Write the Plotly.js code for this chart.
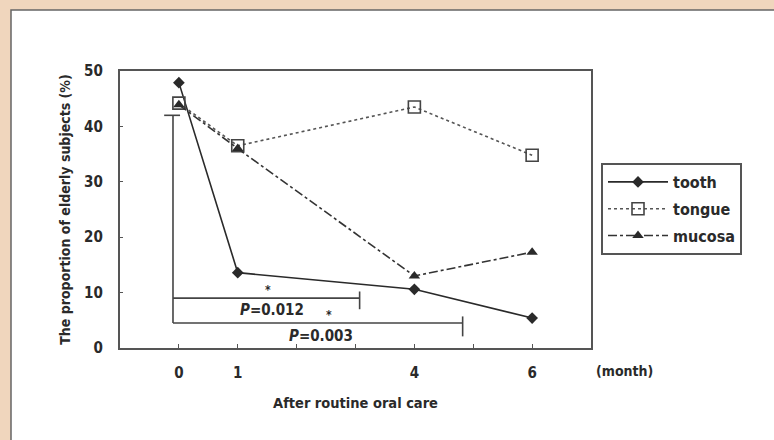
<!DOCTYPE html>
<html>
<head>
<meta charset="utf-8">
<script src="https://cdn.plot.ly/plotly-3.0.1.min.js"></script>
<style>html,body{margin:0;padding:0;background:#f0d6bd;}#chart{width:774px;height:440px;}</style>
</head>
<body>
<div id="chart"></div>
<script>
// ---- data ----
const months = [0, 1, 4, 6];
const tooth  = [47.9, 13.6, 10.6, 5.4];
const tongue = [44.2, 36.5, 43.5, 34.8];
const mucosa = [43.9, 36.0, 13.0, 17.3];
const tickVals = [0, 1, 2, 3, 4, 5, 6];
const tickText = ["0", "1", "", "", "4", "", "6"];
const seriesNames = ["tooth", "tongue", "mucosa"];
// significance brackets: [start month, end month, level %, end-tick low, end-tick high]
const bracketStart = -0.1;
const bracketTop = 42;
const bracket1 = [-0.1, 3.07, 9.0, 7.0, 10.2];
const bracket2 = [-0.1, 4.82, 4.5, 2.1, 5.7];
const pLabels = ["<i>P</i>=0.012", "<i>P</i>=0.003"];
const pLabelPos = [[1.58, 6.9], [2.42, 2.2]];
const starPos = [[1.52, 10.5], [2.55, 6.0]];

const FONT = "DejaVu Sans Condensed, Liberation Sans Narrow, Arial Narrow, sans-serif";
const ink = "#2a2a2a";
const f = (size) => ({family: FONT, size: size, color: ink, weight: "bold"});

const traces = [
  {x: months, y: tooth, name: seriesNames[0], legendgroup: "a", mode: "lines+markers",
   line: {color: ink, width: 1.6, dash: "solid"},
   marker: {symbol: "diamond", size: 9, color: ink}},
  {x: months, y: tongue, name: seriesNames[1], legendgroup: "b", mode: "lines+markers",
   line: {color: "#555", width: 1.6, dash: "dot"},
   marker: {symbol: "square-open", size: 12, color: "#444", line: {width: 1.6, color: "#444"}}},
  {x: months, y: mucosa, name: seriesNames[2], legendgroup: "c", mode: "lines+markers",
   line: {color: "#333", width: 1.6, dash: "dashdot"},
   marker: {symbol: "triangle-up", size: 10, color: ink}}
];

const L = 120, R = 183, T = 71, B = 92, W = 774, H = 440;
const pw = W - L - R, ph = H - T - B;
const px = v => (v - L) / pw;
const py = v => (H - B - v) / ph;

const lineStyle = {color: "#444", width: 1.6};
const shapes = [
  {type: "rect", xref: "paper", yref: "paper", x0: px(11), x1: px(790), y0: py(460), y1: py(10),
   fillcolor: "#ffffff", line: {color: "#666", width: 1.5}, layer: "below"},
  {type: "line", xref: "x", yref: "y", x0: bracketStart, x1: bracketStart, y0: bracket2[2], y1: bracketTop, line: lineStyle},
  {type: "line", xref: "x", yref: "y", x0: -0.25, x1: 0.02, y0: bracketTop, y1: bracketTop, line: lineStyle}
];
[bracket1, bracket2].forEach(b => {
  shapes.push({type: "line", xref: "x", yref: "y", x0: b[0], x1: b[1], y0: b[2], y1: b[2], line: lineStyle});
  shapes.push({type: "line", xref: "x", yref: "y", x0: b[1], x1: b[1], y0: b[3], y1: b[4], line: lineStyle});
});

const annotations = [
  {xref: "paper", yref: "paper", x: px(624), y: py(371), text: "(month)", showarrow: false,
   font: f(14), xanchor: "center", yanchor: "middle"}
];
pLabels.forEach((t, i) => {
  annotations.push({x: pLabelPos[i][0], y: pLabelPos[i][1], text: t, showarrow: false,
    font: f(15), xanchor: "center", yanchor: "middle"});
  annotations.push({x: starPos[i][0], y: starPos[i][1], text: "*", showarrow: false,
    font: f(12), xanchor: "center", yanchor: "middle"});
});

const layout = {
  width: W, height: H,
  margin: {l: L, r: R, t: T, b: B},
  paper_bgcolor: "#f0d6bd",
  plot_bgcolor: "rgba(0,0,0,0)",
  font: f(14),
  showlegend: true,
  legend: {x: px(601), y: py(163), xanchor: "left", yanchor: "top",
    bgcolor: "#ffffff", bordercolor: "#555", borderwidth: 2,
    font: f(16), itemwidth: 60, traceorder: "grouped", tracegroupgap: 3},
  xaxis: {range: [-1, 7], tickvals: tickVals, ticktext: tickText,
    ticks: "inside", ticklen: 4, tickwidth: 1.2, tickcolor: "#555",
    showgrid: false, zeroline: false, showline: true, mirror: true,
    linecolor: "#555", linewidth: 2.2, ticklabelstandoff: 10,
    tickfont: f(15),
    title: {text: "After routine oral care", font: f(14.5), standoff: 17}},
  yaxis: {range: [0, 50], tickvals: [0, 10, 20, 30, 40, 50],
    ticks: "inside", ticklen: 3, tickwidth: 1.2, tickcolor: "#555",
    showgrid: false, zeroline: false, showline: true, mirror: true,
    linecolor: "#555", linewidth: 2.2, ticklabelstandoff: 12,
    tickfont: f(15),
    title: {text: "The proportion of elderly subjects (%)", font: f(14), standoff: 10}},
  shapes: shapes,
  annotations: annotations
};

Plotly.newPlot("chart", traces, layout, {displayModeBar: false, staticPlot: true});
</script>
</body>
</html>
